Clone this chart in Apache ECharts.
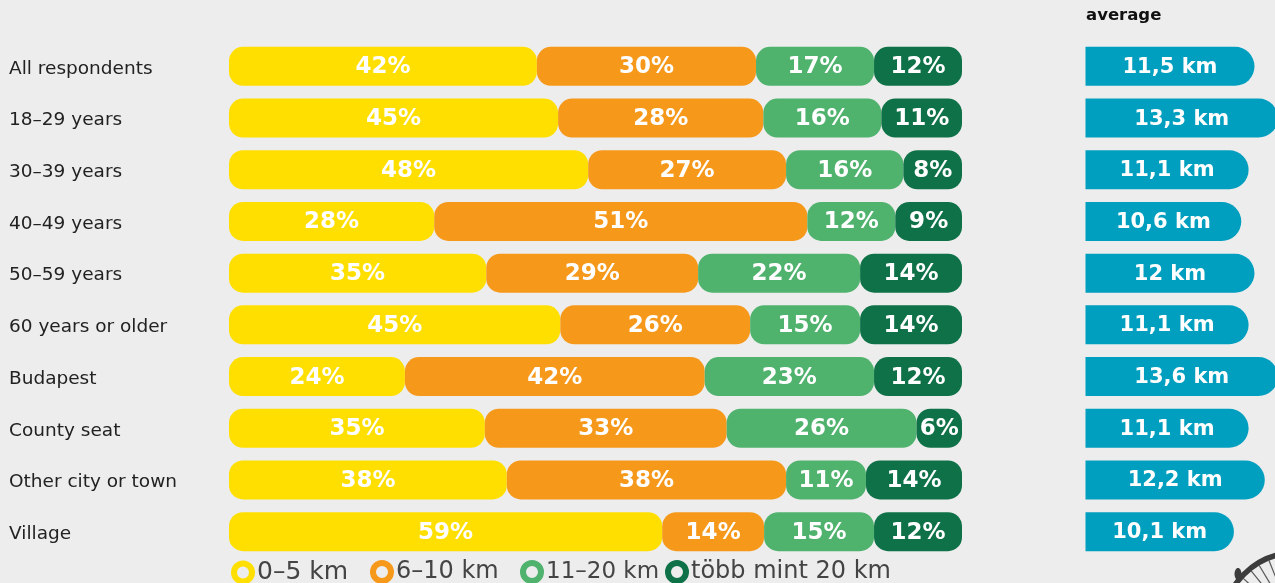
<!DOCTYPE html>
<html>
<head>
<meta charset="utf-8">
<style>
  html, body { margin: 0; padding: 0; background: #ededed; }
  #chart { width: 1275px; height: 583px; }
</style>
</head>
<body>
<div id="chart"></div>
<script src="https://cdn.jsdelivr.net/npm/echarts@6/dist/echarts.min.js"></script>
<script>
const groups = ["All respondents", "18–29 years", "30–39 years", "40–49 years", "50–59 years",
  "60 years or older", "Budapest", "County seat", "Other city or town", "Village"];

// printed shares
const label0to5 = [42, 45, 48, 28, 35, 45, 24, 35, 38, 59];
const label6to10 = [30, 28, 27, 51, 29, 26, 42, 33, 38, 14];
const label11to20 = [17, 16, 16, 12, 22, 15, 23, 26, 11, 15];
const labelOver20 = [12, 11, 8, 9, 14, 14, 12, 6, 14, 12];

// segment lengths as drawn, the printed shares are rounded and do not always add up to 100
const share0to5 = [42.0, 44.9, 49.0, 28.0, 35.1, 45.2, 24.0, 34.9, 37.9, 59.1];
const share6to10 = [29.9, 28.0, 27.0, 50.9, 28.9, 25.9, 40.9, 33.0, 38.1, 13.9];
const share11to20 = [16.1, 16.1, 16.0, 12.0, 22.1, 15.0, 23.1, 25.9, 10.9, 15.0];
const shareOver20 = [12.0, 11.0, 8.0, 9.1, 13.9, 13.9, 12.0, 6.2, 13.1, 12.0];

// average distance, printed text and drawn length
const avgLabels = ["11,5 km", "13,3 km", "11,1 km", "10,6 km", "12 km", "11,1 km", "13,6 km", "11,1 km", "12,2 km", "10,1 km"];
const avgLength = [11.5, 13.1, 11.1, 10.6, 11.5, 11.1, 13.1, 11.1, 12.2, 10.1];

const legendNames = ["0–5 km", "6–10 km", "11–20 km", "több mint 20 km"];
const legendLeft = [231, 370, 520, 665];
const legendFontSize = [25, 24, 23, 24];
const colors = ["#ffdf00", "#f6991b", "#4fb26d", "#0e7148"];

function stackSeries(i, values, labels) {
  return {
    name: legendNames[i],
    type: "bar",
    stack: "share",
    xAxisIndex: 0,
    yAxisIndex: 0,
    barWidth: 39,
    data: values,
    itemStyle: { color: colors[i], borderRadius: 14 },
    label: {
      show: true,
      position: "inside",
      offset: [0, 1],
      color: "#fff",
      fontFamily: "DejaVu Sans",
      fontWeight: "bold",
      fontSize: 23,
      formatter: function (params) {
        return labels[params.dataIndex] + "%";
      },
    },
  };
}

// bicycle wheel in the corner
const wheelX = 1295;
const wheelY = 625;
const wheel = [
  { type: "circle", shape: { cx: wheelX, cy: wheelY, r: 72 }, style: { fill: "none", stroke: "#3c3c3c", lineWidth: 5.5 } },
  { type: "ellipse", shape: { cx: 1238, cy: 574, rx: 3.5, ry: 6 }, style: { fill: "#3c3c3c" } },
];
[222, 231, 239, 248].forEach(function (deg) {
  const a = (deg * Math.PI) / 180;
  wheel.push({
    type: "line",
    shape: {
      x1: wheelX + 70 * Math.cos(a),
      y1: wheelY + 70 * Math.sin(a),
      x2: wheelX,
      y2: wheelY,
    },
    style: { stroke: "#555", lineWidth: 1.2 },
  });
});

const chart = echarts.init(document.getElementById("chart"));
chart.setOption({
  animation: false,
  backgroundColor: "#ededed",
  title: {
    text: "average",
    left: 1086,
    top: 7,
    padding: 0,
    textStyle: { fontFamily: "DejaVu Sans", fontWeight: "bold", fontSize: 16.5, color: "#111" },
  },
  grid: [
    { left: 229, top: 40.5, width: 733, height: 517, outerBoundsMode: "none" },
    { left: 1085.5, top: 40.5, width: 192.5, height: 517, outerBoundsMode: "none" },
  ],
  xAxis: [
    { type: "value", min: 0, max: 100, show: false, gridIndex: 0 },
    { type: "value", min: 0, max: 13.1, show: false, gridIndex: 1 },
  ],
  yAxis: [
    {
      type: "category",
      inverse: true,
      data: groups,
      gridIndex: 0,
      axisLine: { show: false },
      axisTick: { show: false },
      axisLabel: {
        align: "left",
        margin: 220,
        formatter: "{name|{value}}",
        rich: {
          name: {
            padding: [5, 0, 0, 0],
            color: "#222",
            fontFamily: "DejaVu Sans",
            fontSize: 18.5,
          },
        },
      },
    },
    { type: "category", inverse: true, data: groups, gridIndex: 1, show: false },
  ],
  legend: legendNames.map(function (name, i) {
    return {
      data: [name],
      left: legendLeft[i],
      top: 560,
      padding: 0,
      icon: "circle",
      itemWidth: 18,
      itemHeight: 18,
      itemGap: 0,
      selectedMode: false,
      itemStyle: { color: "#ededed", borderColor: colors[i], borderWidth: 6 },
      textStyle: { fontFamily: "DejaVu Sans", fontSize: legendFontSize[i], color: "#444" },
    };
  }),
  series: [
    stackSeries(0, share0to5, label0to5),
    stackSeries(1, share6to10, label6to10),
    stackSeries(2, share11to20, label11to20),
    stackSeries(3, shareOver20, labelOver20),
    {
      name: "average",
      type: "bar",
      xAxisIndex: 1,
      yAxisIndex: 1,
      barWidth: 39,
      data: avgLength,
      itemStyle: { color: "#009fbf", borderRadius: [0, 20, 20, 0] },
      label: {
        show: true,
        position: "inside",
        offset: [0, 1],
        color: "#fff",
        fontFamily: "DejaVu Sans",
        fontWeight: "bold",
        fontSize: 21,
        formatter: function (params) {
          return avgLabels[params.dataIndex];
        },
      },
    },
  ],
  graphic: wheel,
});
</script>
</body>
</html>
